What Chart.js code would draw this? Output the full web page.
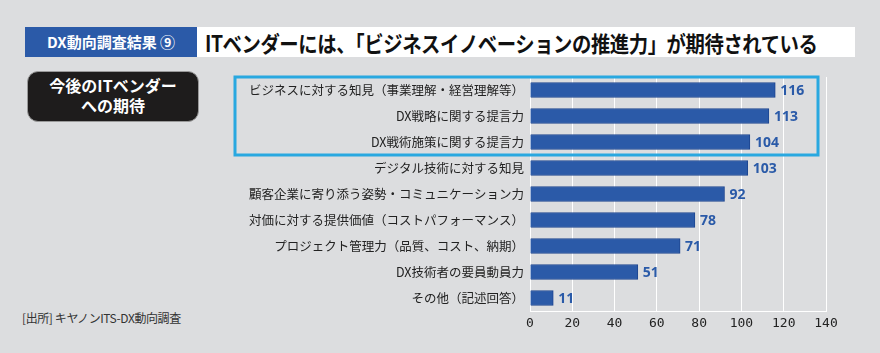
<!DOCTYPE html>
<html lang="ja">
<head>
<meta charset="utf-8">
<script src="https://cdn.jsdelivr.net/npm/chart.js@4"></script>
<style>
  html, body { margin: 0; padding: 0; }
  body { width: 880px; height: 353px; background: #dcdddf; position: relative; overflow: hidden;
         font-family: "Noto Sans CJK JP", "Noto Sans", sans-serif; }
  #tag { position: absolute; left: 25px; top: 27px; width: 172px; height: 30px; background: #2b5aa8;
         color: #fff; font-weight: bold; font-size: 15px; line-height: 30px; text-align: center; letter-spacing: 0px; white-space: nowrap; }
  #title { position: absolute; left: 197px; top: 27px; width: 658px; height: 30px; background: #fff;
           color: #111; font-weight: bold; font-size: 22px; line-height: 30px; padding-left: 8px; box-sizing: border-box;
           white-space: nowrap; overflow: hidden; }
  #title span { display: inline-block; transform: scaleX(0.88); transform-origin: left center; letter-spacing: -0.5px; }
  #side { position: absolute; left: 27px; top: 71px; width: 172px; height: 51px; background: #1e1c1c;
          border: 1px solid #999; border-radius: 11px; box-sizing: border-box; color: #fff; font-weight: bold;
          font-size: 16px; line-height: 20px; text-align: center; padding-top: 3px; white-space: nowrap; }
  #src { position: absolute; left: 22px; top: 309px; font-size: 12px; color: #333; letter-spacing: -0.4px; }
  #wrap { position: absolute; left: 0; top: 0; width: 880px; height: 353px; }
</style>
</head>
<body>
<div id="tag">DX動向調査結果 ⑨</div>
<div id="title"><span>ITベンダーには、「ビジネスイノベーションの推進力」が期待されている</span></div>
<div id="side">今後のITベンダー<br>への期待</div>
<div id="src">[出所] キヤノンITS-DX動向調査</div>
<div id="wrap"><canvas id="chart" width="880" height="353"></canvas></div>
<script>
// 回答項目と件数
const categories = [
  "ビジネスに対する知見（事業理解・経営理解等）",
  "DX戦略に関する提言力",
  "DX戦術施策に関する提言力",
  "デジタル技術に対する知見",
  "顧客企業に寄り添う姿勢・コミュニケーション力",
  "対価に対する提供価値（コストパフォーマンス）",
  "プロジェクト管理力（品質、コスト、納期）",
  "DX技術者の要員動員力",
  "その他（記述回答）"
];
const counts = [116, 113, 104, 103, 92, 78, 71, 51, 11];
const xTicks = [0, 20, 40, 60, 80, 100, 120, 140];
const highlighted = [0, 1, 2];

// bar end value labels
const valueLabels = {
  id: "valueLabels",
  afterDatasetsDraw(chart) {
    const ctx = chart.ctx;
    const meta = chart.getDatasetMeta(0);
    ctx.save();
    ctx.font = "bold 14px 'Noto Sans', 'DejaVu Sans', sans-serif";
    ctx.fillStyle = "#2a5aa8";
    ctx.textAlign = "left";
    ctx.textBaseline = "middle";
    meta.data.forEach((bar, i) => {
      ctx.fillText(String(counts[i]), bar.x + 5, bar.y + 1);
    });
    ctx.restore();
  }
};

// light blue frame round the top three items
const highlightBox = {
  id: "highlightBox",
  afterDraw(chart) {
    const y = chart.scales.y;
    const first = highlighted[0], last = highlighted[highlighted.length - 1];
    const top = y.getPixelForValue(first) - 13;
    const bottom = y.getPixelForValue(last) + 13;
    const ctx = chart.ctx;
    ctx.save();
    ctx.strokeStyle = "#29a8e0";
    ctx.lineWidth = 3;
    ctx.strokeRect(235, top, 583, bottom - top);
    ctx.restore();
  }
};

const ctx = document.getElementById("chart").getContext("2d");
new Chart(ctx, {
  type: "bar",
  data: {
    labels: categories,
    datasets: [{
      data: counts,
      backgroundColor: "#2b5aa8",
      borderColor: "#1d4590",
      borderWidth: 1,
      barThickness: 15
    }]
  },
  options: {
    indexAxis: "y",
    responsive: false,
    animation: false,
    layout: { padding: { top: 77, right: 54, left: 0, bottom: 0 } },
    plugins: { legend: { display: false }, tooltip: { enabled: false } },
    scales: {
      x: {
        min: 0,
        max: 140,
        afterBuildTicks(scale) { scale.ticks = xTicks.map(v => ({ value: v })); },
        afterFit(scale) { scale.height = 42; },
        grid: { color: "#ffffff", lineWidth: 1, drawTicks: false },
        border: { color: "#ffffff", width: 1 },
        ticks: {
          color: "#222",
          padding: 5,
          font: { family: "'DejaVu Sans Mono', monospace", size: 13 }
        }
      },
      y: {
        afterFit(scale) { scale.width = 530; },
        grid: { display: false, drawTicks: false },
        border: { display: false },
        ticks: {
          color: "#222",
          padding: 6,
          font: { family: "'Noto Sans CJK JP', sans-serif", size: 12.5 }
        }
      }
    }
  },
  plugins: [valueLabels, highlightBox]
});
</script>
</body>
</html>
